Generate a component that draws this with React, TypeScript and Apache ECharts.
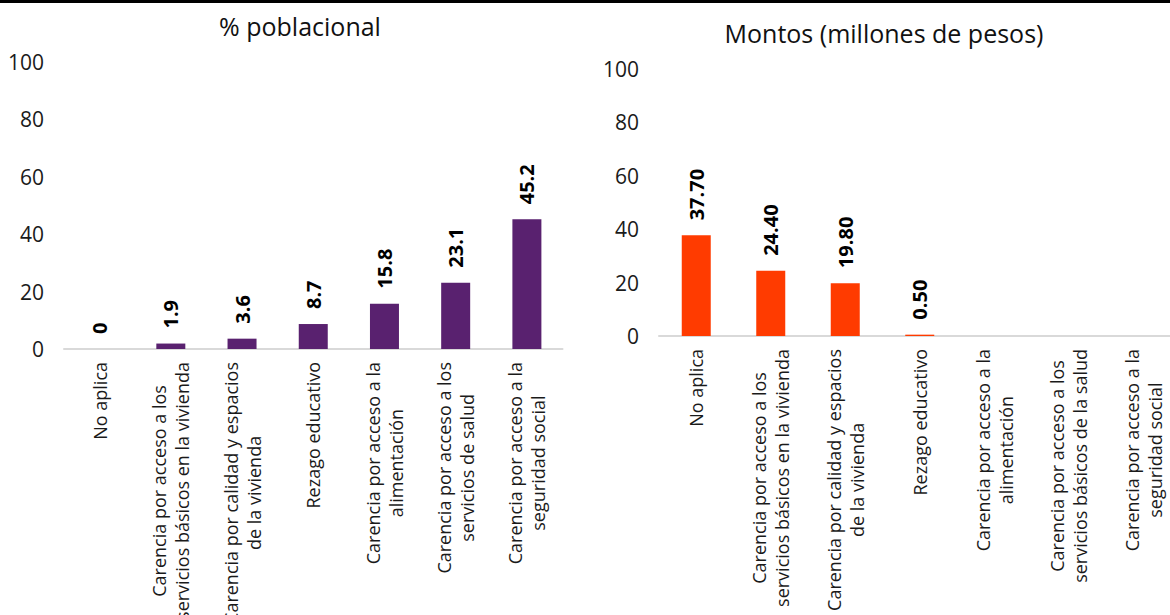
import React, { useEffect, useRef } from "react";
import * as echarts from "echarts";

const leftTitle = "% poblacional";
const rightTitle = "Montos (millones de pesos)";

const leftCategories = [
  "No aplica",
  "Carencia por acceso a los\nservicios básicos en la vivienda",
  "Carencia por calidad y espacios\nde la vivienda",
  "Rezago educativo",
  "Carencia por acceso a la\nalimentación",
  "Carencia por acceso a los\nservicios de salud",
  "Carencia por acceso a la\nseguridad social",
];
const leftValues = [0, 1.9, 3.6, 8.7, 15.8, 23.1, 45.2];

const rightCategories = [
  "No aplica",
  "Carencia por acceso a los\nservicios básicos en la vivienda",
  "Carencia por calidad y espacios\nde la vivienda",
  "Rezago educativo",
  "Carencia por acceso a la\nalimentación",
  "Carencia por acceso a los\nservicios básicos de la salud",
  "Carencia por acceso a la\nseguridad social",
];
const rightValues: (number | null)[] = [37.7, 24.4, 19.8, 0.5, null, null, null];

const yMin = 0;
const yMax = 100;
const yInterval = 20;

const FONT = "'Open Sans', 'Noto Sans', sans-serif";

const catLabel = (v: string) =>
  v
    .split("\n")
    .map((l) => `{c|${l}}`)
    .join("\n");

const xAxisCommon = {
  type: "category" as const,
  axisLine: { show: true, lineStyle: { color: "#D9D9D9", width: 2 } },
  axisTick: { show: false },
  axisLabel: {
    interval: 0,
    rotate: 90,
    margin: 13,
    formatter: catLabel,
    rich: {
      c: {
        align: "center",
        fontSize: 18,
        lineHeight: 23,
        fontFamily: FONT,
        color: "#1a1a1a",
      },
    },
  },
};

const yAxisCommon = {
  type: "value" as const,
  min: yMin,
  max: yMax,
  interval: yInterval,
  splitLine: { show: false },
  axisLine: { show: false },
  axisTick: { show: false },
  axisLabel: { fontSize: 21, fontFamily: FONT, color: "#1a1a1a", margin: 20 },
};

const barLabel = {
  show: true,
  position: "top",
  rotate: 90,
  align: "left",
  verticalAlign: "middle",
  distance: 15,
  fontSize: 20,
  fontWeight: "bold",
  fontFamily: FONT,
  color: "#000",
};

export default function App() {
  const ref = useRef<HTMLDivElement>(null);
  useEffect(() => {
    if (!ref.current) return;
    const chart = echarts.init(ref.current, null, { renderer: "svg" });
    chart.setOption({
      animation: false,
      backgroundColor: "#fff",
      title: [
        {
          text: leftTitle,
          left: 300,
          top: 13,
          textAlign: "center",
          padding: 0,
          textStyle: { fontSize: 25, fontWeight: "normal", fontFamily: FONT, color: "#111" },
        },
        {
          text: rightTitle,
          left: 884,
          top: 20,
          textAlign: "center",
          padding: 0,
          textStyle: { fontSize: 25, fontWeight: "normal", fontFamily: FONT, color: "#111" },
        },
      ],
      graphic: [
        { type: "rect", left: 0, top: 0, shape: { width: 1170, height: 3 }, style: { fill: "#000" } },
      ],
      grid: [
        { left: 64, top: 62, width: 498.5, height: 287, containLabel: false, outerBoundsMode: "none" },
        { left: 659, top: 69, width: 521.5, height: 267, containLabel: false, outerBoundsMode: "none" },
      ],
      xAxis: [
        { ...xAxisCommon, gridIndex: 0, data: leftCategories },
        { ...xAxisCommon, gridIndex: 1, data: rightCategories },
      ],
      yAxis: [
        { ...yAxisCommon, gridIndex: 0 },
        { ...yAxisCommon, gridIndex: 1 },
      ],
      series: [
        {
          type: "bar",
          xAxisIndex: 0,
          yAxisIndex: 0,
          data: leftValues,
          barWidth: 29,
          itemStyle: { color: "#59216F" },
          label: { ...barLabel, formatter: (p: any) => String(p.value) },
        },
        {
          type: "bar",
          xAxisIndex: 1,
          yAxisIndex: 1,
          data: rightValues,
          barWidth: 29,
          itemStyle: { color: "#FF3B00" },
          label: { ...barLabel, formatter: (p: any) => (p.value == null ? "" : Number(p.value).toFixed(2)) },
        },
      ],
    });
    return () => chart.dispose();
  }, []);
  return (
    <div
      ref={ref}
      style={{ position: "fixed", left: 0, top: 0, width: 1170, height: 615, background: "#fff" }}
    />
  );
}
